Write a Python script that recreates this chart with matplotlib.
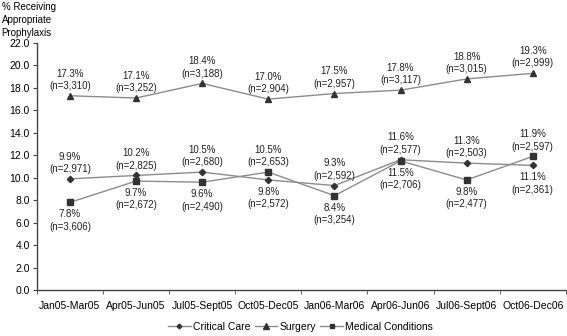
import numpy as np
import matplotlib.pyplot as plt

plt.rc("font", family=["Liberation Sans", "DejaVu Sans"], size=7)

periods = ["Jan05-Mar05", "Apr05-Jun05", "Jul05-Sept05", "Oct05-Dec05",
           "Jan06-Mar06", "Apr06-Jun06", "Jul06-Sept06", "Oct06-Dec06"]

critical = [9.9, 10.2, 10.5, 9.8, 9.3, 11.6, 11.3, 11.1]
critical_n = ["2,971", "2,825", "2,680", "2,572", "2,592", "2,577", "2,503", "2,361"]
critical_up = [True, True, True, False, True, True, True, False]

surgery = [17.3, 17.1, 18.4, 17.0, 17.5, 17.8, 18.8, 19.3]
surgery_n = ["3,310", "3,252", "3,188", "2,904", "2,957", "3,117", "3,015", "2,999"]
surgery_up = [True] * 8

medical = [7.8, 9.7, 9.6, 10.5, 8.4, 11.5, 9.8, 11.9]
medical_n = ["3,606", "2,672", "2,490", "2,653", "3,254", "2,706", "2,477", "2,597"]
medical_up = [False, False, False, True, False, False, False, True]

fig = plt.figure(figsize=(5.67, 3.36), dpi=100)
ax = fig.add_axes([0.065, 0.137, 0.933, 0.735])

x = np.arange(len(periods))
line_c = "#8c8c8c"
mark_c = "#333333"

series = [
    (critical, critical_n, critical_up, "D", 3.2, "Critical Care"),
    (surgery, surgery_n, surgery_up, "^", 5, "Surgery"),
    (medical, medical_n, medical_up, "s", 4.5, "Medical Conditions"),
]

for vals, ns, ups, mk, ms, name in series:
    ax.plot(x, vals, color=line_c, lw=1, marker=mk, ms=ms,
            mfc=mark_c, mec=mark_c, label=name)
    for xi, v, n, up in zip(x, vals, ns, ups):
        txt = "%.1f%%\n(n=%s)" % (v, n)
        if up:
            ax.annotate(txt, (xi, v), xytext=(0, 3.5), textcoords="offset points",
                        ha="center", va="bottom", linespacing=1.3, color="#222222")
        else:
            ax.annotate(txt, (xi, v), xytext=(0, -5), textcoords="offset points",
                        ha="center", va="top", linespacing=1.3, color="#222222")

ax.set_xlim(-0.5, 7.5)
ax.set_ylim(0, 22)
ax.set_yticks(np.arange(0, 22.1, 2))
ax.set_yticklabels(["%.1f" % t for t in np.arange(0, 22.1, 2)], fontsize=7.5)
ax.set_xticks(x)
ax.set_xticklabels(periods, fontsize=7.5)
ax.set_xticks(np.arange(-0.5, 8, 1), minor=True)
ax.tick_params(axis="x", which="major", length=0, pad=8)
ax.tick_params(axis="x", which="minor", length=3, color="#444444")
ax.tick_params(axis="y", length=3, color="#444444", pad=2)

for s in ["top", "right"]:
    ax.spines[s].set_visible(False)
for s in ["left", "bottom"]:
    ax.spines[s].set_color("#444444")
    ax.spines[s].set_linewidth(1)

fig.text(0.003, 0.995, "% Receiving\nAppropriate\nProphylaxis", ha="left", va="top",
         fontsize=7, linespacing=1.4)

fig.legend(loc="lower center", bbox_to_anchor=(0.53, -0.015), ncol=3, frameon=False,
           handlelength=2.2, columnspacing=0.4, handletextpad=0.2, fontsize=7.5,
           markerscale=0.75)

fig.savefig("out.png", dpi=100)
